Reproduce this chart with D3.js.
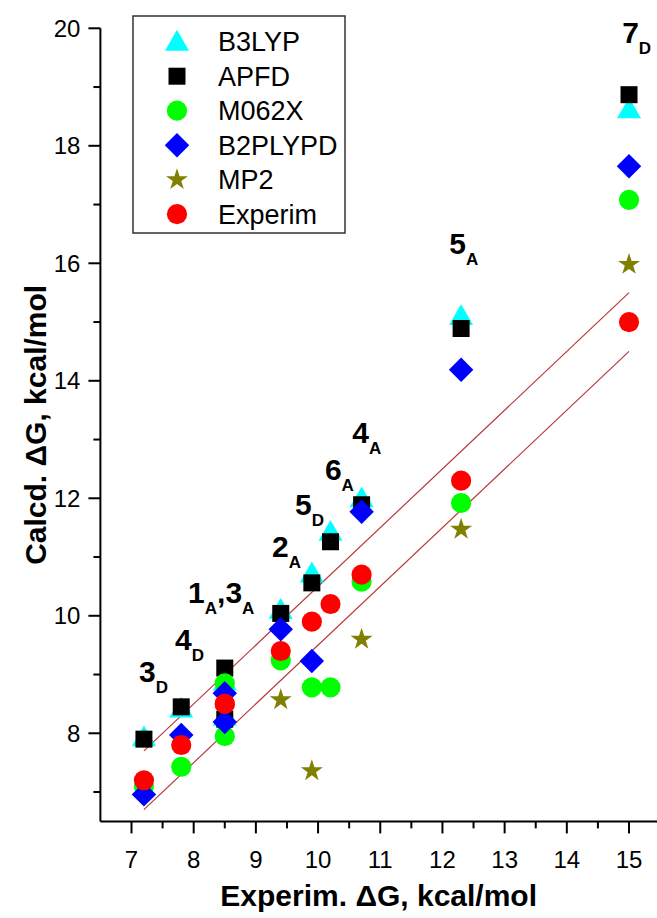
<!DOCTYPE html>
<html>
<head>
<meta charset="utf-8">
<script src="https://cdn.jsdelivr.net/npm/d3@7"></script>
<style>
  html, body { margin: 0; padding: 0; background: #fff; }
  svg { display: block; font-family: "Liberation Sans", Arial, sans-serif; }
</style>
</head>
<body>
<svg id="chart" width="657" height="918"></svg>
<script>
// ---------- data ----------
const compounds = ["3D", "4D", "1A", "3A", "2A", "5D", "6A", "4A", "5A", "7D"];
const experim   = [7.2, 7.8, 8.5, 8.5, 9.4, 9.9, 10.2, 10.7, 12.3, 15.0];
const b3lyp     = [7.93, 8.42, 8.88, 8.28, 10.1, 10.72, 11.43, 12.0, 15.1, 18.62];
const apfd      = [7.9, 8.45, 9.11, 8.24, 10.04, 10.56, 11.26, 11.89, 14.89, 18.87];
const m062x     = [7.1, 7.43, 8.85, 7.95, 9.24, 8.78, 8.78, 10.58, 11.92, 17.08];
const b2plypd   = [6.96, 7.97, 8.68, 8.19, 9.77, 9.23, null, 11.77, 14.19, 17.65];
const mp2       = [null, null, null, null, 8.57, 7.36, null, 9.6, 11.47, 15.98];
const seriesNames = ["B3LYP", "APFD", "M062X", "B2PLYPD", "MP2", "Experim"];

const xTicks = [7, 8, 9, 10, 11, 12, 13, 14, 15];
const yTicks = [8, 10, 12, 14, 16, 18, 20];

// guide lines (experimental ± 0.5)
const lineX     = [7.2, 15.0];
const lineUpper = [7.7, 15.5];
const lineLower = [6.7, 14.5];

// compound annotations: main text, subscript, anchor (data units)
const labelMain = ["3", "4", "1", "2", "5", "6", "4", "5", "7"];
const labelSub  = ["D", "D", "A", "A", "D", "A", "A", "A", "D"];
const labelX    = [7.12, 7.70, 7.91, 9.26, 9.63, 10.11, 10.55, 12.11, 14.89];
const labelY    = [8.87, 9.42, 10.22, 11.0, 11.72, 12.31, 12.94, 16.16, 19.75];

// ---------- layout ----------
const svg = d3.select("#chart");
const x = d3.scaleLinear().domain([6.5, 15.45]).range([100.4, 657]);
const y = d3.scaleLinear().domain([6.5, 20]).range([821.4, 28.3]);

const colors = {
  B3LYP: "#00ffff", APFD: "#000000", M062X: "#00ff00",
  B2PLYPD: "#0000ff", MP2: "#808000", Experim: "#ff0000"
};
const valuesBy = {
  B3LYP: b3lyp, APFD: apfd, M062X: m062x, B2PLYPD: b2plypd, MP2: mp2, Experim: experim
};
function symbolPath(name) {
  switch (name) {
    case "B3LYP":   return { d: d3.symbol(d3.symbolTriangle, 250)(), rot: 0, dy: 2 };
    case "APFD":    return { d: d3.symbol(d3.symbolSquare, 289)(), rot: 0, dy: 0 };
    case "M062X":   return { d: d3.symbol(d3.symbolCircle, 320)(), rot: 0, dy: 0 };
    case "B2PLYPD": return { d: d3.symbol(d3.symbolSquare, 300)(), rot: 45, dy: 0 };
    case "MP2":     return { d: d3.symbol(d3.symbolStar, 150)(), rot: 0, dy: 0 };
    case "Experim": return { d: d3.symbol(d3.symbolCircle, 320)(), rot: 0, dy: 0 };
  }
}

// ---------- guide lines ----------
const lineGen = d3.line().x(d => x(d[0])).y(d => y(d[1]));
[lineUpper, lineLower].forEach(arr => {
  svg.append("path")
    .attr("d", lineGen(lineX.map((v, i) => [v, arr[i]])))
    .attr("fill", "none")
    .attr("stroke", "#b8383a")
    .attr("stroke-width", 1.2);
});

// ---------- points ----------
seriesNames.forEach(name => {
  const s = symbolPath(name);
  const pts = experim.map((xv, i) => [xv, valuesBy[name][i]]).filter(p => p[1] != null);
  svg.append("g").selectAll("path").data(pts).join("path")
    .attr("d", s.d)
    .attr("transform", p => `translate(${x(p[0])},${y(p[1]) + s.dy}) rotate(${s.rot})`)
    .attr("fill", colors[name]);
});

// ---------- axes ----------
const axisG = svg.append("g");
// x axis
const xAxis = axisG.append("g").attr("transform", `translate(0,${y(6.5)})`);
xAxis.append("line").attr("x1", x(6.5)).attr("x2", x(15.45)).attr("stroke", "#000").attr("stroke-width", 2);
xAxis.selectAll(".maj").data(xTicks).join("line")
  .attr("x1", d => x(d)).attr("x2", d => x(d)).attr("y1", 0).attr("y2", 12)
  .attr("stroke", "#000").attr("stroke-width", 2);
xAxis.selectAll(".min").data(d3.range(7.5, 15, 1)).join("line")
  .attr("x1", d => x(d)).attr("x2", d => x(d)).attr("y1", 0).attr("y2", 7)
  .attr("stroke", "#000").attr("stroke-width", 2);
xAxis.selectAll("text").data(xTicks).join("text")
  .attr("x", d => x(d)).attr("y", 47)
  .attr("text-anchor", "middle").attr("font-size", 24).attr("fill", "#000")
  .text(d => d);

// y axis
const yAxis = axisG.append("g").attr("transform", `translate(${x(6.5)},0)`);
yAxis.append("line").attr("y1", y(6.5)).attr("y2", y(20)).attr("stroke", "#000").attr("stroke-width", 2);
yAxis.selectAll(".maj").data(yTicks).join("line")
  .attr("y1", d => y(d)).attr("y2", d => y(d)).attr("x1", 0).attr("x2", -12)
  .attr("stroke", "#000").attr("stroke-width", 2);
yAxis.selectAll(".min").data(d3.range(7, 20, 2)).join("line")
  .attr("y1", d => y(d)).attr("y2", d => y(d)).attr("x1", 0).attr("x2", -7)
  .attr("stroke", "#000").attr("stroke-width", 2);
yAxis.selectAll("text").data(yTicks).join("text")
  .attr("x", -20).attr("y", d => y(d)).attr("dy", "0.35em")
  .attr("text-anchor", "end").attr("font-size", 24).attr("fill", "#000")
  .text(d => d);

// axis titles
svg.append("text")
  .attr("x", (x(6.5) + x(15.45)) / 2).attr("y", 906)
  .attr("text-anchor", "middle").attr("font-size", 30).attr("font-weight", "bold")
  .text("Experim. ΔG, kcal/mol");
svg.append("text")
  .attr("transform", `translate(46,${(y(6.5) + y(20)) / 2}) rotate(-90)`)
  .attr("text-anchor", "middle").attr("font-size", 30).attr("font-weight", "bold")
  .text("Calcd. ΔG, kcal/mol");

// ---------- compound labels ----------
const lab = svg.append("g").attr("font-weight", "bold").attr("fill", "#000");
labelMain.forEach((m, i) => {
  const t = lab.append("text").attr("x", x(labelX[i])).attr("y", y(labelY[i])).attr("font-size", 30);
  t.append("tspan").text(m);
  t.append("tspan").attr("font-size", 17).attr("dy", 11).text(labelSub[i]);
  if (i === 2) {
    t.append("tspan").attr("dy", -11).text(",3");
    t.append("tspan").attr("font-size", 17).attr("dy", 11).text("A");
  }
});

// ---------- legend ----------
const leg = svg.append("g");
leg.append("rect").attr("x", 133).attr("y", 16).attr("width", 212).attr("height", 217)
  .attr("fill", "#fff").attr("stroke", "#333").attr("stroke-width", 1.5);
seriesNames.forEach((name, i) => {
  const cy = 41.7 + i * 34.5;
  const s = symbolPath(name);
  leg.append("path").attr("d", s.d)
    .attr("transform", `translate(177,${cy + s.dy}) rotate(${s.rot})`)
    .attr("fill", colors[name]);
  leg.append("text").attr("x", 218).attr("y", cy).attr("dy", "0.36em")
    .attr("font-size", 27).attr("fill", "#000").text(name);
});
</script>
</body>
</html>
